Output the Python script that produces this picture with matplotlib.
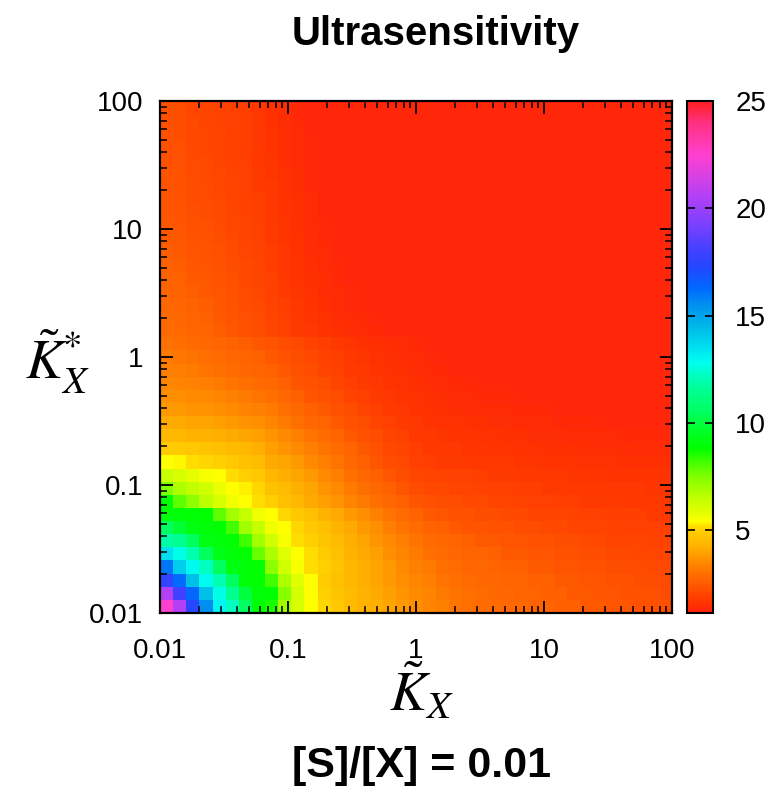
import numpy as np
import matplotlib
matplotlib.use("Agg")
import matplotlib.pyplot as plt
from matplotlib.colors import LinearSegmentedColormap, Normalize
from matplotlib.ticker import LogLocator, NullFormatter

# ---------------- data ----------------
title = "Ultrasensitivity"
subtitle = "[S]/[X] = 0.01"
x_label = r"$\tilde{K}_X$"
y_label = r"$\tilde{K}^{*}_{X}$"
axis_ticks = [0.01, 0.1, 1, 10, 100]
axis_tick_labels = ["0.01", "0.1", "1", "10", "100"]
cbar_ticks = [5, 10, 15, 20, 25]
value_range = (1.15, 25.0)
grid_exponent_range = (-2, 2)     # log10 of axis limits
n_cells = 39                      # cells per axis

# colour stops of the palette (value, colour)
palette_values = [1.15, 1.5, 1.9, 2.25, 2.6, 3.0, 3.3, 3.6, 3.9, 4.2, 4.6, 5.0, 5.2, 5.4,
                  5.6, 6.0, 6.5, 7.0, 7.5, 8.2, 8.8, 9.5, 10.5, 11.5, 12.2, 12.8, 13.5,
                  14.5, 15.5, 16.3, 17.2, 18.0, 19.0, 20.5, 22.5, 24.0, 25.0]
palette_colors = ["#ff2010", "#ff3000", "#ff4000", "#ff5000", "#ff6000", "#ff7000", "#ff8000",
                  "#ff9000", "#ffa000", "#ffb000", "#ffc000", "#ffd000", "#ffe000", "#ffff00",
                  "#f0ff00", "#d8ff00", "#c0ff00", "#a0ff00", "#80ff00", "#40ff00", "#00ff00",
                  "#00ff20", "#00ff60", "#00ff90", "#00ffc0", "#00fff0", "#00e0f0", "#00b8e8",
                  "#0090f0", "#0068ff", "#2048ff", "#4040ff", "#7040ff", "#b040f8", "#ff40d0",
                  "#ff3080", "#ff2020"]

# ultrasensitivity per cell; row 0 = lowest K*_X, column 0 = lowest K_X
ultra_rows = [
"22.5 20.6 17.4 15.5 13.0 12.2 10.5 8.9 8.6 7.0 6.0 5.4 5.1 4.8 4.5 4.3 4.2 4.0 3.8 3.6 3.4 3.3 3.1 3.0 2.9 2.9 2.8 2.8 2.7 2.7 2.6 2.6 2.5 2.5 2.4 2.4 2.3 2.3 2.25",
"20.6 18.0 16.3 14.3 12.7 11.5 10.0 9.0 8.8 7.4 6.1 5.4 5.0 4.7 4.5 4.3 4.1 3.9 3.7 3.5 3.4 3.2 3.1 3.0 2.9 2.8 2.8 2.7 2.7 2.6 2.6 2.5 2.5 2.4 2.4 2.3 2.3 2.25 2.2",
"17.6 16.2 14.3 12.9 12.0 10.5 9.0 8.8 8.2 6.8 5.9 5.4 4.9 4.6 4.4 4.2 4.0 3.8 3.6 3.4 3.3 3.1 3.0 2.9 2.8 2.8 2.7 2.7 2.6 2.6 2.5 2.5 2.4 2.4 2.3 2.3 2.2 2.2 2.15",
"16.0 14.0 12.9 12.2 10.5 9.2 9.0 8.8 7.3 6.2 5.5 5.2 5.0 4.7 4.4 4.2 4.0 3.8 3.5 3.3 3.2 3.0 2.9 2.8 2.8 2.7 2.6 2.6 2.5 2.5 2.4 2.4 2.3 2.3 2.2 2.2 2.15 2.1 2.1",
"13.5 12.7 12.0 10.5 9.3 9.0 8.8 7.8 6.8 5.9 5.4 5.2 4.9 4.6 4.3 4.1 3.9 3.6 3.4 3.2 3.0 2.9 2.8 2.7 2.7 2.6 2.5 2.5 2.4 2.4 2.3 2.3 2.2 2.2 2.1 2.1 2.05 2.05 2.0",
"11.8 11.5 10.5 9.2 9.0 8.9 8.2 7.0 6.2 5.5 5.2 5.0 4.7 4.5 4.2 4.0 3.7 3.5 3.3 3.1 2.9 2.8 2.7 2.6 2.5 2.5 2.4 2.4 2.3 2.3 2.2 2.2 2.1 2.1 2.0 2.0 2.0 1.95 1.95",
"10.5 9.8 9.2 9.0 8.9 8.2 7.0 6.4 5.6 5.4 5.1 4.8 4.6 4.3 4.1 3.8 3.6 3.3 3.1 2.9 2.7 2.6 2.5 2.4 2.4 2.3 2.3 2.2 2.2 2.1 2.1 2.0 2.0 2.0 1.95 1.9 1.9 1.9 1.9",
"9.0 9.0 8.9 8.8 7.9 7.0 6.4 5.6 5.4 5.1 4.8 4.6 4.3 4.1 3.8 3.6 3.3 3.1 2.9 2.7 2.5 2.4 2.3 2.3 2.2 2.2 2.1 2.1 2.0 2.0 2.0 1.95 1.9 1.9 1.85 1.85 1.85 1.8 1.8",
"8.8 7.9 7.3 6.6 6.0 5.6 5.4 5.2 5.0 4.6 4.4 4.1 3.9 3.7 3.4 3.2 3.0 2.8 2.6 2.4 2.3 2.2 2.2 2.1 2.1 2.0 2.0 1.95 1.9 1.9 1.85 1.85 1.8 1.8 1.8 1.75 1.75 1.75 1.75",
"7.5 6.8 6.5 6.2 5.7 5.4 5.3 5.1 4.6 4.5 4.2 4.0 3.7 3.5 3.2 3.0 2.8 2.6 2.4 2.2 2.1 2.1 2.0 2.0 1.95 1.9 1.9 1.85 1.85 1.8 1.8 1.75 1.75 1.7 1.7 1.7 1.7 1.65 1.65",
"6.3 6.0 5.8 5.5 5.4 5.2 5.0 4.8 4.4 4.2 4.0 3.8 3.5 3.3 3.0 2.8 2.6 2.4 2.2 2.05 2.0 1.95 1.9 1.9 1.85 1.8 1.8 1.75 1.75 1.7 1.7 1.65 1.65 1.65 1.6 1.6 1.6 1.6 1.6",
"5.4 5.35 5.2 5.1 5.0 4.8 4.6 4.5 4.1 4.0 3.8 3.5 3.3 3.1 2.8 2.6 2.4 2.2 2.1 1.9 1.85 1.8 1.8 1.75 1.75 1.7 1.7 1.65 1.65 1.6 1.6 1.6 1.55 1.55 1.55 1.5 1.5 1.5 1.5",
"4.9 4.9 4.8 4.7 4.6 4.5 4.4 4.2 3.9 3.7 3.5 3.3 3.1 2.9 2.7 2.5 2.3 2.1 2.0 1.85 1.75 1.7 1.7 1.65 1.65 1.6 1.6 1.55 1.55 1.5 1.5 1.5 1.45 1.45 1.45 1.45 1.4 1.4 1.4",
"4.4 4.4 4.3 4.3 4.2 4.1 4.0 3.9 3.7 3.5 3.3 3.1 2.9 2.7 2.5 2.3 2.2 2.0 1.9 1.75 1.7 1.65 1.6 1.6 1.55 1.55 1.5 1.5 1.45 1.45 1.45 1.4 1.4 1.4 1.4 1.35 1.35 1.35 1.35",
"4.1 4.1 4.0 4.0 3.9 3.8 3.7 3.6 3.4 3.2 3.0 2.8 2.7 2.5 2.3 2.2 2.0 1.9 1.8 1.7 1.6 1.55 1.55 1.5 1.5 1.45 1.45 1.4 1.4 1.4 1.35 1.35 1.35 1.35 1.3 1.3 1.3 1.3 1.3",
"3.8 3.8 3.7 3.7 3.6 3.5 3.4 3.3 3.2 3.0 2.8 2.6 2.5 2.3 2.2 2.0 1.9 1.8 1.7 1.6 1.55 1.5 1.45 1.45 1.4 1.4 1.4 1.35 1.35 1.35 1.3 1.3 1.3 1.3 1.3 1.3 1.3 1.3 1.3",
"3.6 3.6 3.5 3.5 3.4 3.3 3.2 3.1 3.0 2.8 2.6 2.4 2.3 2.2 2.0 1.9 1.8 1.7 1.6 1.55 1.5 1.45 1.4 1.4 1.35 1.35 1.35 1.3 1.3 1.3 1.3 1.3 1.3 1.3 1.3 1.3 1.3 1.3 1.3",
"3.45 3.4 3.35 3.3 3.2 3.1 3.0 2.9 2.8 2.6 2.4 2.3 2.2 2.0 1.9 1.8 1.7 1.6 1.55 1.5 1.45 1.4 1.35 1.35 1.3 1.3 1.3 1.3 1.3 1.3 1.3 1.3 1.3 1.3 1.3 1.3 1.3 1.3 1.3",
"3.3 3.25 3.2 3.1 3.0 2.9 2.8 2.7 2.6 2.5 2.3 2.2 2.0 1.9 1.8 1.7 1.6 1.55 1.5 1.45 1.4 1.35 1.3 1.3 1.3 1.3 1.3 1.3 1.3 1.3 1.3 1.3 1.3 1.3 1.3 1.3 1.3 1.3 1.3",
"3.2 3.15 3.1 3.0 2.9 2.8 2.7 2.6 2.5 2.35 2.2 2.1 1.95 1.85 1.75 1.65 1.55 1.5 1.45 1.4 1.35 1.3 1.3 1.3 1.3 1.3 1.3 1.3 1.3 1.3 1.3 1.3 1.3 1.3 1.3 1.3 1.3 1.3 1.3",
"3.05 3.0 2.9 2.85 2.75 2.65 2.55 2.45 2.35 2.2 2.1 1.95 1.85 1.75 1.65 1.55 1.5 1.45 1.4 1.35 1.3 1.3 1.3 1.3 1.3 1.3 1.3 1.3 1.3 1.3 1.3 1.3 1.3 1.3 1.3 1.3 1.3 1.3 1.3",
"2.9 2.85 2.75 2.7 2.55 2.45 2.3 2.2 2.05 1.95 1.8 1.7 1.6 1.5 1.45 1.4 1.35 1.3 1.3 1.3 1.3 1.3 1.3 1.3 1.3 1.3 1.3 1.3 1.3 1.3 1.3 1.3 1.3 1.3 1.3 1.3 1.3 1.3 1.3",
"2.85 2.8 2.7 2.6 2.5 2.4 2.25 2.15 2.0 1.9 1.75 1.65 1.55 1.45 1.4 1.35 1.3 1.3 1.3 1.3 1.3 1.3 1.3 1.3 1.3 1.3 1.3 1.3 1.3 1.3 1.3 1.3 1.3 1.3 1.3 1.3 1.3 1.3 1.3",
"2.8 2.75 2.65 2.55 2.45 2.35 2.2 2.1 1.95 1.85 1.7 1.6 1.5 1.4 1.35 1.3 1.3 1.3 1.3 1.3 1.3 1.3 1.3 1.3 1.3 1.3 1.3 1.3 1.3 1.3 1.3 1.3 1.3 1.3 1.3 1.3 1.3 1.3 1.3",
"2.7 2.65 2.55 2.5 2.4 2.3 2.15 2.05 1.9 1.8 1.65 1.55 1.45 1.4 1.35 1.3 1.3 1.3 1.3 1.3 1.3 1.3 1.3 1.3 1.3 1.3 1.3 1.3 1.3 1.3 1.3 1.3 1.3 1.3 1.3 1.3 1.3 1.3 1.3",
"2.65 2.6 2.5 2.45 2.35 2.25 2.1 2.0 1.9 1.75 1.6 1.5 1.45 1.35 1.3 1.3 1.3 1.3 1.3 1.3 1.3 1.3 1.3 1.3 1.3 1.3 1.3 1.3 1.3 1.3 1.3 1.3 1.3 1.3 1.3 1.3 1.3 1.3 1.3",
"2.6 2.55 2.45 2.4 2.3 2.2 2.1 2.0 1.85 1.7 1.6 1.5 1.4 1.35 1.3 1.3 1.3 1.3 1.3 1.3 1.3 1.3 1.3 1.3 1.3 1.3 1.3 1.3 1.3 1.3 1.3 1.3 1.3 1.3 1.3 1.3 1.3 1.3 1.3",
"2.55 2.5 2.4 2.35 2.25 2.15 2.05 1.95 1.85 1.7 1.55 1.45 1.4 1.3 1.3 1.3 1.3 1.3 1.3 1.3 1.3 1.3 1.3 1.3 1.3 1.3 1.3 1.3 1.3 1.3 1.3 1.3 1.3 1.3 1.3 1.3 1.3 1.3 1.3",
"2.5 2.45 2.35 2.3 2.2 2.1 2.0 1.9 1.8 1.65 1.55 1.45 1.35 1.3 1.3 1.3 1.3 1.3 1.3 1.3 1.3 1.3 1.3 1.3 1.3 1.3 1.3 1.3 1.3 1.3 1.3 1.3 1.3 1.3 1.3 1.3 1.3 1.3 1.3",
"2.45 2.4 2.3 2.25 2.15 2.05 2.0 1.9 1.8 1.65 1.5 1.4 1.35 1.3 1.3 1.3 1.3 1.3 1.3 1.3 1.3 1.3 1.3 1.3 1.3 1.3 1.3 1.3 1.3 1.3 1.3 1.3 1.3 1.3 1.3 1.3 1.3 1.3 1.3",
"2.4 2.35 2.25 2.2 2.1 2.05 1.95 1.85 1.75 1.6 1.5 1.4 1.3 1.3 1.3 1.3 1.3 1.3 1.3 1.3 1.3 1.3 1.3 1.3 1.3 1.3 1.3 1.3 1.3 1.3 1.3 1.3 1.3 1.3 1.3 1.3 1.3 1.3 1.3",
"2.4 2.35 2.2 2.15 2.1 2.0 1.95 1.85 1.7 1.6 1.5 1.4 1.3 1.3 1.3 1.3 1.3 1.3 1.3 1.3 1.3 1.3 1.3 1.3 1.3 1.3 1.3 1.3 1.3 1.3 1.3 1.3 1.3 1.3 1.3 1.3 1.3 1.3 1.3",
"2.35 2.3 2.2 2.15 2.05 2.0 1.9 1.8 1.7 1.55 1.45 1.35 1.3 1.3 1.3 1.3 1.3 1.3 1.3 1.3 1.3 1.3 1.3 1.3 1.3 1.3 1.3 1.3 1.3 1.3 1.3 1.3 1.3 1.3 1.3 1.3 1.3 1.3 1.3",
"2.35 2.3 2.15 2.1 2.05 1.95 1.9 1.8 1.65 1.55 1.45 1.35 1.3 1.3 1.3 1.3 1.3 1.3 1.3 1.3 1.3 1.3 1.3 1.3 1.3 1.3 1.3 1.3 1.3 1.3 1.3 1.3 1.3 1.3 1.3 1.3 1.3 1.3 1.3",
"2.3 2.25 2.15 2.1 2.0 1.95 1.9 1.75 1.65 1.5 1.4 1.35 1.3 1.3 1.3 1.3 1.3 1.3 1.3 1.3 1.3 1.3 1.3 1.3 1.3 1.3 1.3 1.3 1.3 1.3 1.3 1.3 1.3 1.3 1.3 1.3 1.3 1.3 1.3",
"2.3 2.25 2.1 2.05 2.0 1.95 1.85 1.75 1.6 1.5 1.4 1.35 1.3 1.3 1.3 1.3 1.3 1.3 1.3 1.3 1.3 1.3 1.3 1.3 1.3 1.3 1.3 1.3 1.3 1.3 1.3 1.3 1.3 1.3 1.3 1.3 1.3 1.3 1.3",
"2.3 2.2 2.1 2.05 2.0 1.9 1.85 1.7 1.6 1.5 1.4 1.3 1.3 1.3 1.3 1.3 1.3 1.3 1.3 1.3 1.3 1.3 1.3 1.3 1.3 1.3 1.3 1.3 1.3 1.3 1.3 1.3 1.3 1.3 1.3 1.3 1.3 1.3 1.3",
"2.25 2.2 2.1 2.0 1.95 1.9 1.85 1.7 1.55 1.45 1.35 1.3 1.3 1.3 1.3 1.3 1.3 1.3 1.3 1.3 1.3 1.3 1.3 1.3 1.3 1.3 1.3 1.3 1.3 1.3 1.3 1.3 1.3 1.3 1.3 1.3 1.3 1.3 1.3",
"2.25 2.2 2.05 2.0 1.95 1.9 1.85 1.7 1.55 1.45 1.35 1.3 1.3 1.3 1.3 1.3 1.3 1.3 1.3 1.3 1.3 1.3 1.3 1.3 1.3 1.3 1.3 1.3 1.3 1.3 1.3 1.3 1.3 1.3 1.3 1.3 1.3 1.3 1.3",
]

# ---------------- build ----------------
rows = [[float(v) for v in r.split()] for r in ultra_rows]
bad = [(i, len(r)) for i, r in enumerate(rows) if len(r) != n_cells]
if bad or len(rows) != n_cells:
    raise ValueError(f"bad rows {bad}, nrows={len(rows)}")
Z = np.array(rows)

vmin, vmax = value_range
stops = [(v - vmin) / (vmax - vmin) for v in palette_values]
stops[0], stops[-1] = 0.0, 1.0
cmap = LinearSegmentedColormap.from_list("gp", list(zip(stops, palette_colors)), N=512)

edges = np.logspace(grid_exponent_range[0], grid_exponent_range[1], n_cells + 1)

plt.rcParams["mathtext.fontset"] = "stix"

W, H = 774, 786
fig = plt.figure(figsize=(W / 100, H / 100), dpi=100)
ax = fig.add_axes([160 / W, 173 / H, 512 / W, 512 / H])
cax = fig.add_axes([687 / W, 173 / H, 26 / W, 512 / H])

mesh = ax.pcolormesh(edges, edges, Z, cmap=cmap, norm=Normalize(vmin, vmax),
                     shading="flat", edgecolors="none", antialiased=False)
ax.set_xscale("log")
ax.set_yscale("log")
ax.set_xlim(edges[0], edges[-1])
ax.set_ylim(edges[0], edges[-1])

tick_font = dict(family=["Liberation Sans", "DejaVu Sans"], size=20)
ax.set_xticks(axis_ticks)
ax.set_xticklabels(axis_tick_labels, **tick_font)
ax.set_yticks(axis_ticks)
ax.set_yticklabels(axis_tick_labels, **tick_font)
ax.xaxis.set_minor_locator(LogLocator(base=10, subs=np.arange(2, 10)))
ax.yaxis.set_minor_locator(LogLocator(base=10, subs=np.arange(2, 10)))
ax.xaxis.set_minor_formatter(NullFormatter())
ax.yaxis.set_minor_formatter(NullFormatter())
ax.tick_params(which="both", direction="in", top=True, right=True, colors="black")
ax.tick_params(which="major", length=9, width=1.3)
ax.tick_params(which="minor", length=5, width=1.1)
ax.tick_params(axis="x", which="major", pad=18)
ax.tick_params(axis="y", which="major", pad=12)
for s in ax.spines.values():
    s.set_linewidth(1.6)

cb = fig.colorbar(mesh, cax=cax, ticks=cbar_ticks)
cb.outline.set_linewidth(1.5)
cax.tick_params(direction="in", length=6, width=1.2, left=True, right=True,
                labelleft=False, labelright=True, pad=16)
for t in cax.get_yticklabels():
    t.set_fontfamily(["Liberation Sans", "DejaVu Sans"])
    t.set_fontsize(20)

head_font = ["Liberation Sans Narrow", "Liberation Sans", "DejaVu Sans"]
fig.text(436 / W, 1 - 34 / H, title, ha="center", va="center",
         fontsize=29, fontweight="bold", family=head_font)
fig.text(422 / W, 1 - 766 / H, subtitle, ha="center", va="center",
         fontsize=31, fontweight="bold", family=head_font)
fig.text(422 / W, 1 - 693 / H, x_label, ha="center", va="center", fontsize=40)
fig.text(58 / W, 1 - 362 / H, y_label, ha="center", va="center", fontsize=40)

fig.savefig("out.png", dpi=100, facecolor="white")
